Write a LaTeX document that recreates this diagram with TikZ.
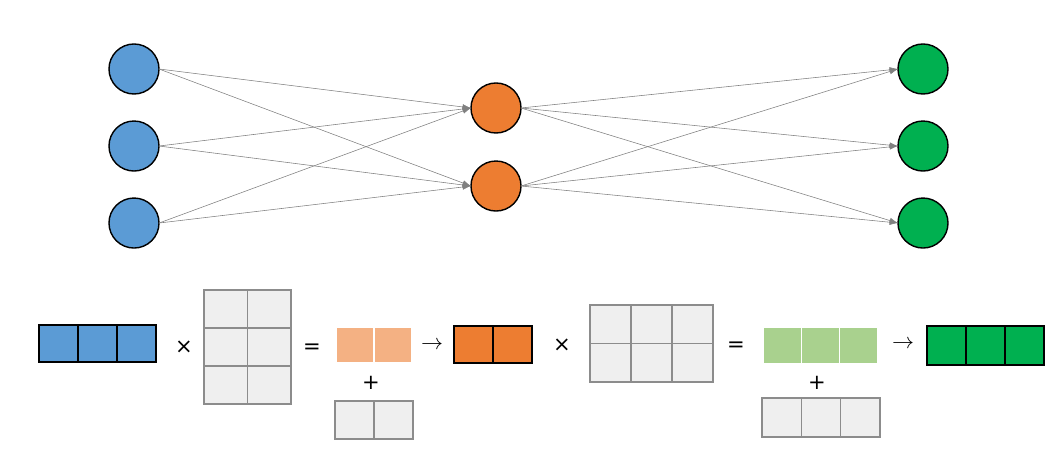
\documentclass[tikz,border=0pt]{standalone}
\usepackage{graphicx}
\usepackage{fontspec}
\setmainfont{Liberation Sans}
\newfontfamily\symfont{DejaVu Sans}
\usetikzlibrary{arrows.meta, positioning}
\definecolor{inblue}{HTML}{5B9BD5}
\definecolor{hidorange}{HTML}{ED7D31}
\definecolor{outgreen}{HTML}{00B050}
\definecolor{lightorange}{HTML}{F4B183}
\definecolor{lightgreen}{HTML}{A9D18E}
\definecolor{wfill}{HTML}{EFEFEF}
\definecolor{wdraw}{HTML}{8C8C8C}
\newcommand{\mapsarrow}{\resizebox{0.55cm}{!}{$\rightarrow$}}
\tikzstyle{neuron} = [circle, minimum size=1.25cm, inner sep=0pt, outer sep=0pt, draw=black, line width=1pt]
\tikzstyle{edge} = [draw=gray, line width=0.4pt, -{Latex[length=6pt,width=4pt]}]
\tikzstyle{cell} = [rectangle, inner sep=0pt, outer sep=0pt, minimum width=0.975cm, minimum height=0.925cm, draw=black, line width=1pt]
\tikzstyle{wcell} = [rectangle, inner sep=0pt, outer sep=0pt, draw=wdraw, fill=wfill, line width=1pt]
\tikzstyle{pcell} = [rectangle, inner sep=0pt, outer sep=0pt, minimum width=0.95cm, minimum height=0.9cm, draw=white, line width=0.8pt]
\tikzstyle{op} = [inner sep=0pt, font=\symfont\fontsize{15}{15}\selectfont]
\tikzstyle{toop} = [inner sep=0pt]

\begin{document}
\begin{tikzpicture}[x=0.025cm, y=-0.025cm]
\useasboundingbox (0,0) rectangle (1059,457);

% network
\node (in1) [neuron, fill=inblue] at (134,69) {};
\node (in2) [neuron, fill=inblue, below=0.675cm of in1] {};
\node (in3) [neuron, fill=inblue, below=0.675cm of in2] {};
\node (hid1) [neuron, fill=hidorange] at (496,108) {};
\node (hid2) [neuron, fill=hidorange, below=0.7cm of hid1] {};
\node (out1) [neuron, fill=outgreen] at (923,69) {};
\node (out2) [neuron, fill=outgreen, below=0.675cm of out1] {};
\node (out3) [neuron, fill=outgreen, below=0.675cm of out2] {};

\draw [edge] (in1.east) -- (hid1.west);
\draw [edge] (in1.east) -- (hid2.west);
\draw [edge] (in2.east) -- (hid1.west);
\draw [edge] (in2.east) -- (hid2.west);
\draw [edge] (in3.east) -- (hid1.west);
\draw [edge] (in3.east) -- (hid2.west);

\draw [edge] (hid1.east) -- (out1.west);
\draw [edge] (hid1.east) -- (out2.west);
\draw [edge] (hid1.east) -- (out3.west);
\draw [edge] (hid2.east) -- (out1.west);
\draw [edge] (hid2.east) -- (out2.west);
\draw [edge] (hid2.east) -- (out3.west);

% input row vector
\node (x1) [cell, fill=inblue] at (58.5,343.5) {};
\node (x2) [cell, fill=inblue, right=0pt of x1] {};
\node (x3) [cell, fill=inblue, right=0pt of x2] {};
\node (times1) [op] at (184,347) {×};

% first weight matrix
\tikzstyle{wone} = [wcell, minimum width=1.0875cm, minimum height=0.95cm]
\node (wa11) [wone] at (225.75,309) {};
\node (wa12) [wone, right=0pt of wa11] {};
\node (wa21) [wone, below=0pt of wa11] {};
\node (wa22) [wone, right=0pt of wa21] {};
\node (wa31) [wone, below=0pt of wa21] {};
\node (wa32) [wone, right=0pt of wa31] {};
\node (eq1) [op] at (312,349) {=};

% hidden pre-activation and bias
\node (z1) [pcell, fill=lightorange] at (355,345) {};
\node (z2) [pcell, fill=lightorange, right=0pt of z1] {};
\node (plus1) [op] at (371,383) {+};
\node (b1) [wcell, minimum width=0.975cm, minimum height=0.95cm] at (354.5,420) {};
\node (b2) [wcell, minimum width=0.975cm, minimum height=0.95cm, right=0pt of b1] {};
\node (to1) [toop] at (432,345) {\mapsarrow};

% hidden activation
\node (h1) [cell, fill=hidorange] at (473.5,344.5) {};
\node (h2) [cell, fill=hidorange, right=0pt of h1] {};
\node (times2) [op] at (562,345) {×};

% second weight matrix
\tikzstyle{wtwo} = [wcell, minimum width=1.025cm, minimum height=0.9625cm]
\node (wb11) [wtwo] at (610.5,324.25) {};
\node (wb12) [wtwo, right=0pt of wb11] {};
\node (wb13) [wtwo, right=0pt of wb12] {};
\node (wb21) [wtwo, below=0pt of wb11] {};
\node (wb22) [wtwo, right=0pt of wb21] {};
\node (wb23) [wtwo, right=0pt of wb22] {};
\node (eq2) [op] at (736,347) {=};

% output pre-activation and bias
\node (u1) [pcell, fill=lightgreen, minimum width=0.9575cm, minimum height=0.925cm] at (782.2,345.5) {};
\node (u2) [pcell, fill=lightgreen, minimum width=0.9575cm, minimum height=0.925cm, right=0pt of u1] {};
\node (u3) [pcell, fill=lightgreen, minimum width=0.9575cm, minimum height=0.925cm, right=0pt of u2] {};
\node (plus2) [op] at (817,383) {+};
\node (c1) [wcell, minimum width=0.983cm, minimum height=0.975cm] at (781.7,417.5) {};
\node (c2) [wcell, minimum width=0.983cm, minimum height=0.975cm, right=0pt of c1] {};
\node (c3) [wcell, minimum width=0.983cm, minimum height=0.975cm, right=0pt of c2] {};
\node (to2) [toop] at (903,344) {\mapsarrow};

% output row vector
\node (y1) [cell, fill=outgreen, minimum height=0.975cm] at (946.5,345.5) {};
\node (y2) [cell, fill=outgreen, minimum height=0.975cm, right=0pt of y1] {};
\node (y3) [cell, fill=outgreen, minimum height=0.975cm, right=0pt of y2] {};

\end{tikzpicture}
\end{document}
